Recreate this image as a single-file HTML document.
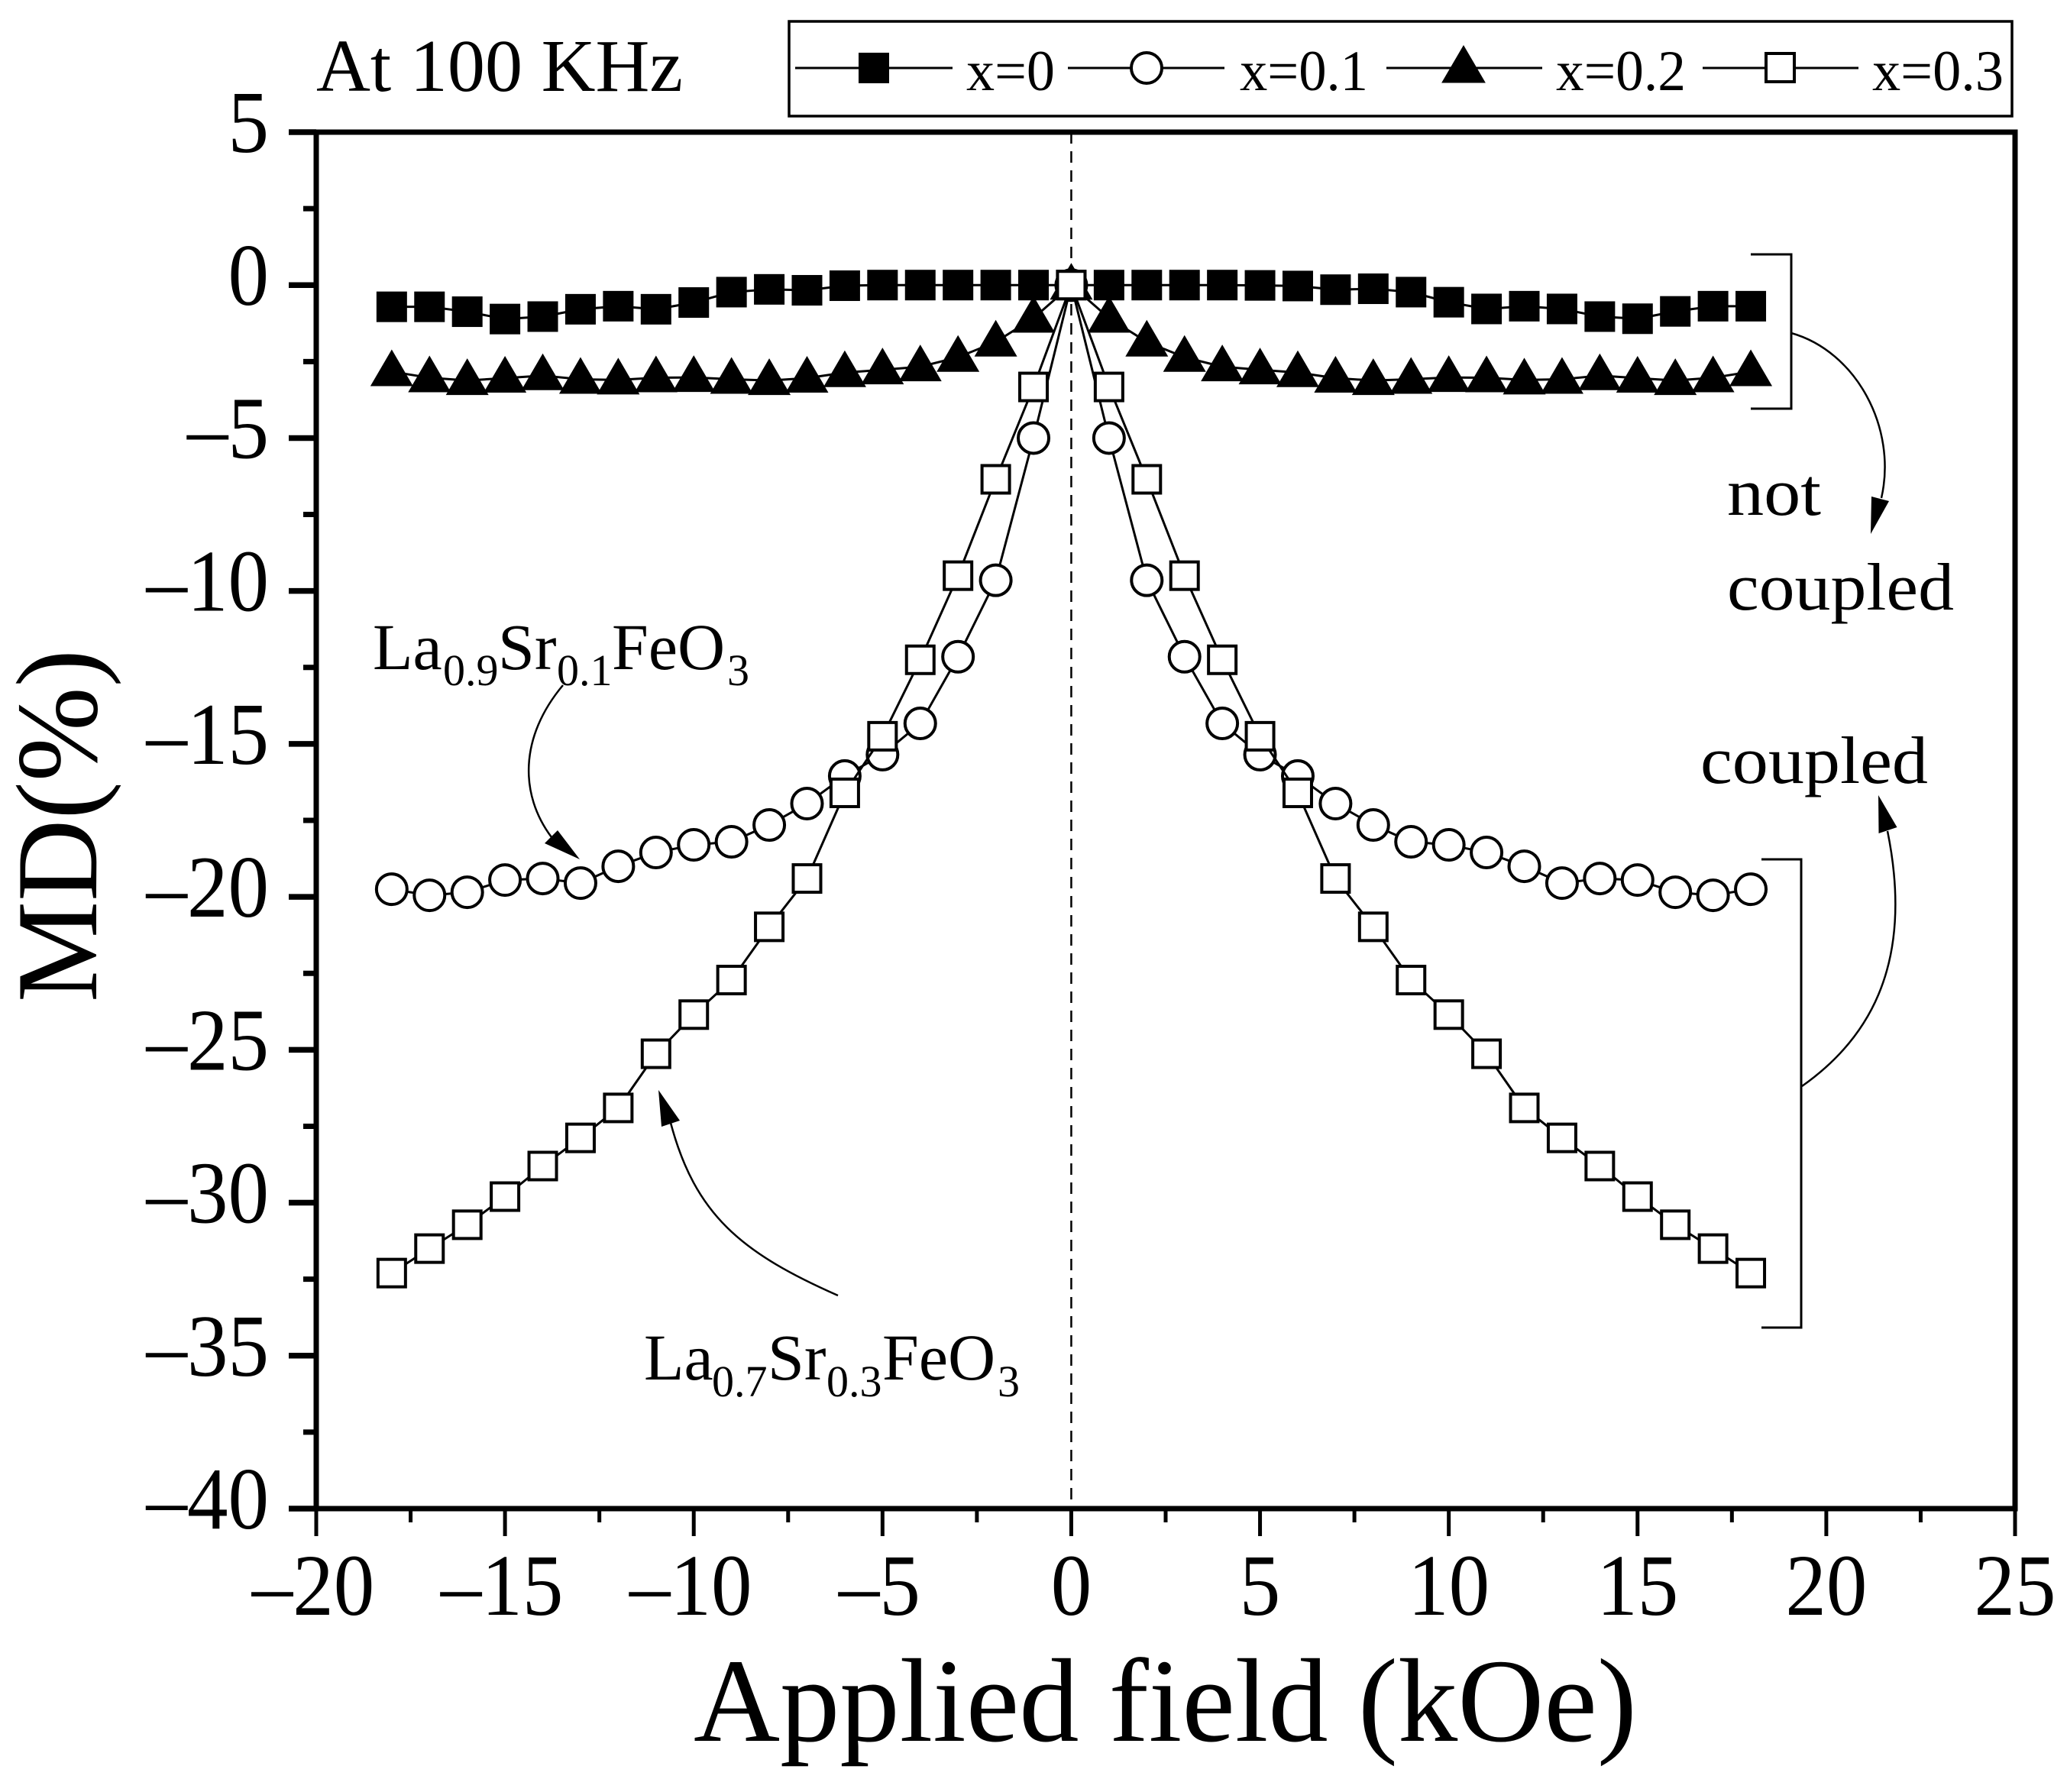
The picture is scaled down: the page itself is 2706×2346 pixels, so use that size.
<!DOCTYPE html>
<html lang="en">
<head>
<meta charset="utf-8">
<title>Magnetodielectric response at 100 KHz</title>
<style>
html,body{margin:0;padding:0;background:#fff;}
svg{display:block;}
text{font-family:"Liberation Serif","DejaVu Serif",serif;fill:#000;}
</style>
</head>
<body>
<svg id="chart" xmlns="http://www.w3.org/2000/svg" width="2706" height="2346" viewBox="0 0 2706 2346">
  <rect width="2706" height="2346" fill="#fff"/>
  <line id="zero-line" stroke="#000" stroke-width="2.5" stroke-dasharray="15 10"/>
  <g id="series-layer"></g>
  <g id="axis-layer"></g>

  <text x="414" y="119" font-size="98" textLength="480" lengthAdjust="spacingAndGlyphs">At 100 KHz</text>

  <g>
    <rect x="1033" y="28" width="1601" height="124" fill="#fff" stroke="#000" stroke-width="3.5"/>
    <g>
      <line x1="1041" x2="1247" y1="89" y2="89" stroke="#000" stroke-width="3"/>
      <rect x="1124" y="69" width="40" height="40" fill="#000"/>
      <text x="1265" y="118" font-size="75" textLength="116" lengthAdjust="spacingAndGlyphs">x=0</text>
    </g>
    <g>
      <line x1="1398" x2="1603" y1="89" y2="89" stroke="#000" stroke-width="3"/>
      <circle cx="1501" cy="89" r="20" fill="#fff" stroke="#000" stroke-width="4"/>
      <text x="1623" y="118" font-size="75" textLength="168" lengthAdjust="spacingAndGlyphs">x=0.1</text>
    </g>
    <g>
      <line x1="1815" x2="2019" y1="89" y2="89" stroke="#000" stroke-width="3"/>
      <polygon points="1916,60 1944,108 1888,108" fill="#000" stroke="#000" stroke-width="1"/>
      <text x="2037" y="118" font-size="75" textLength="170" lengthAdjust="spacingAndGlyphs">x=0.2</text>
    </g>
    <g>
      <line x1="2229" x2="2433" y1="89" y2="89" stroke="#000" stroke-width="3"/>
      <rect x="2312" y="70" width="37" height="37" fill="#fff" stroke="#000" stroke-width="4"/>
      <text x="2451" y="118" font-size="75" textLength="172" lengthAdjust="spacingAndGlyphs">x=0.3</text>
    </g>
  </g>

  <text x="908" y="2279" font-size="156" textLength="1235" lengthAdjust="spacingAndGlyphs">Applied field (kOe)</text>
  <text transform="translate(126 1312) rotate(-90)" x="0" y="0" font-size="152" textLength="462" lengthAdjust="spacingAndGlyphs">MD(%)</text>

  <g>
    <text font-size="86"><tspan x="488" y="876">La</tspan><tspan x="580" y="897" font-size="58">0.9</tspan><tspan x="652" y="876">Sr</tspan><tspan x="729" y="897" font-size="58">0.1</tspan><tspan x="801" y="876">FeO</tspan><tspan x="952" y="897" font-size="58">3</tspan></text>
    <path d="M737 897 C680 965 680 1040 722 1096" fill="none" stroke="#000" stroke-width="2.5"/>
    <polygon points="759,1125 713,1104 730,1087" fill="#000"/>
  </g>
  <g>
    <text font-size="86"><tspan x="843" y="1806">La</tspan><tspan x="932" y="1828" font-size="58">0.7</tspan><tspan x="1005" y="1806">Sr</tspan><tspan x="1082" y="1828" font-size="58">0.3</tspan><tspan x="1155" y="1806">FeO</tspan><tspan x="1306" y="1828" font-size="58">3</tspan></text>
    <path d="M1097 1696 C970 1640 910 1590 878 1470" fill="none" stroke="#000" stroke-width="2.5"/>
    <polygon points="862,1427 866,1475 890,1467" fill="#000"/>
  </g>

  <g>
    <polyline points="2292,333 2345,333 2345,535 2292,535" fill="none" stroke="#000" stroke-width="3"/>
    <path d="M2345 436 C2430 460 2484 560 2463 652" fill="none" stroke="#000" stroke-width="2.5"/>
    <polygon points="2449,699 2450,650 2473,656" fill="#000"/>
    <text x="2261" y="674" font-size="88" textLength="123" lengthAdjust="spacingAndGlyphs">not</text>
    <text x="2261" y="798" font-size="88" textLength="297" lengthAdjust="spacingAndGlyphs">coupled</text>
  </g>
  <g>
    <polyline points="2306,1125 2358,1125 2358,1738 2306,1738" fill="none" stroke="#000" stroke-width="3"/>
    <path d="M2359 1422 C2440 1365 2508 1270 2471 1088" fill="none" stroke="#000" stroke-width="2.5"/>
    <polygon points="2459,1041 2459.5,1091 2483.5,1083" fill="#000"/>
    <text x="2226" y="1025" font-size="88" textLength="298" lengthAdjust="spacingAndGlyphs">coupled</text>
  </g>
</svg>
<script>
const fieldValues = [-18,-17,-16,-15,-14,-13,-12,-11,-10,-9,-8,-7,-6,-5,-4,-3,-2,-1,0,1,2,3,4,5,6,7,8,9,10,11,12,13,14,15,16,17,18];
const seriesX00 = [-0.71,-0.71,-0.87,-1.11,-1.03,-0.79,-0.69,-0.79,-0.57,-0.23,-0.14,-0.17,-0.02,0,0,0,0,0,0,0,0,0,0,-0.01,-0.03,-0.15,-0.12,-0.23,-0.56,-0.78,-0.69,-0.78,-1.03,-1.1,-0.86,-0.69,-0.69];
const seriesX01 = [-19.75,-19.95,-19.85,-19.45,-19.4,-19.55,-19.0,-18.55,-18.3,-18.2,-17.65,-16.95,-16.05,-15.35,-14.33,-12.15,-9.65,-5.0,0,-5.0,-9.65,-12.15,-14.33,-15.35,-16.05,-16.95,-17.65,-18.2,-18.3,-18.55,-19.0,-19.55,-19.4,-19.45,-19.85,-19.95,-19.75];
const seriesX02 = [-2.83,-3.03,-3.12,-3.04,-2.96,-3.08,-3.1,-3.03,-3.02,-3.08,-3.12,-3.04,-2.86,-2.77,-2.67,-2.36,-1.86,-1.08,0,-1.08,-1.86,-2.36,-2.67,-2.77,-2.86,-3.04,-3.12,-3.08,-3.02,-3.03,-3.1,-3.08,-2.96,-3.04,-3.12,-3.03,-2.83];
const seriesX03 = [-32.3,-31.5,-30.72,-29.8,-28.8,-27.88,-26.9,-25.13,-23.85,-22.72,-20.98,-19.4,-16.6,-14.75,-12.25,-9.5,-6.35,-3.33,0,-3.33,-6.35,-9.5,-12.25,-14.75,-16.6,-19.4,-20.98,-22.72,-23.85,-25.13,-26.9,-27.88,-28.8,-29.8,-30.72,-31.5,-32.3];
const xMajorTicks = [-20,-15,-10,-5,0,5,10,15,20,25];
const xMinorTicks = [-17.5,-12.5,-7.5,-2.5,2.5,7.5,12.5,17.5,22.5];
const yMajorTicks = [5,0,-5,-10,-15,-20,-25,-30,-35,-40];
const yMinorTicks = [2.5,-2.5,-7.5,-12.5,-17.5,-22.5,-27.5,-32.5,-37.5];

const SVGNS = 'http://www.w3.org/2000/svg';
const xAt = v => 414 + (v + 20) * (2638 - 414) / 45;
const yAt = v => 173 + (5 - v) * (1975 - 173) / 45;
const seriesLayer = document.getElementById('series-layer');
const axisLayer = document.getElementById('axis-layer');

function make(tag, parent, attrs) {
  const el = document.createElementNS(SVGNS, tag);
  for (const k in attrs) el.setAttribute(k, attrs[k]);
  parent.appendChild(el);
  return el;
}

function drawSeries(values, seriesName, kind) {
  const g = make('g', seriesLayer, {});
  
  
  const pts = values.map((v, i) => xAt(fieldValues[i]) + ',' + yAt(v)).join(' ');
  const line = make('polyline', g, {points: pts, fill: 'none', stroke: '#000', 'stroke-width': 3});
  
  
  values.forEach((v, i) => {
    const cx = xAt(fieldValues[i]);
    const cy = yAt(v);
    let mark;
    if (kind === 'filled-square') {
      mark = make('rect', g, {x: cx - 20, y: cy - 20, width: 40, height: 40, fill: '#000'});
    } else if (kind === 'open-circle') {
      mark = make('circle', g, {cx: cx, cy: cy, r: 20, fill: '#fff', stroke: '#000', 'stroke-width': 4});
    } else if (kind === 'filled-triangle') {
      mark = make('polygon', g, {points: cx + ',' + (cy - 29) + ' ' + (cx + 28) + ',' + (cy + 19) + ' ' + (cx - 28) + ',' + (cy + 19), fill: '#000'});
    } else {
      mark = make('rect', g, {x: cx - 18, y: cy - 18, width: 36, height: 36, fill: '#fff', stroke: '#000', 'stroke-width': 4});
    }
    
    
  });
}

function tickText(v) {
  return v < 0 ? '\u2013' + Math.abs(v) : String(v);
}

function drawAxes() {
  const frame = make('rect', axisLayer, {x: xAt(-20), y: yAt(5), width: xAt(25) - xAt(-20), height: yAt(-40) - yAt(5), fill: 'none', stroke: '#000', 'stroke-width': 7});
  
  
  xMajorTicks.forEach(v => {
    const t = make('line', axisLayer, {x1: xAt(v), x2: xAt(v), y1: yAt(-40), y2: 2011, stroke: '#000', 'stroke-width': 5});
    
    
    const s = tickText(v);
    const lbl = make('text', axisLayer, {x: xAt(v) - (v < 0 ? 4 : 0), y: 2114, 'font-size': 114, 'text-anchor': 'middle', textLength: s.length * 53.5, lengthAdjust: 'spacingAndGlyphs'});
    lbl.textContent = s;
    
    
  });
  xMinorTicks.forEach(v => {
    const t = make('line', axisLayer, {x1: xAt(v), x2: xAt(v), y1: yAt(-40), y2: 1993, stroke: '#000', 'stroke-width': 5});
    
    
  });
  yMajorTicks.forEach(v => {
    const t = make('line', axisLayer, {x1: 378, x2: xAt(-20), y1: yAt(v), y2: yAt(v), stroke: '#000', 'stroke-width': 7.5});
    
    
    const s = tickText(v);
    const lbl = make('text', axisLayer, {x: 352, y: yAt(v) + 26, 'font-size': 115, 'text-anchor': 'end', textLength: s.length * 53.5, lengthAdjust: 'spacingAndGlyphs'});
    lbl.textContent = s;
    
    
  });
  yMinorTicks.forEach(v => {
    const t = make('line', axisLayer, {x1: 397, x2: xAt(-20), y1: yAt(v), y2: yAt(v), stroke: '#000', 'stroke-width': 7});
    
    
  });
}

const zero = document.getElementById('zero-line');
zero.setAttribute('x1', xAt(0));
zero.setAttribute('x2', xAt(0));
zero.setAttribute('y1', yAt(5));
zero.setAttribute('y2', yAt(-40));

drawSeries(seriesX00, 'series-x0', 'filled-square');
drawSeries(seriesX01, 'series-x0-1', 'open-circle');
drawSeries(seriesX02, 'series-x0-2', 'filled-triangle');
drawSeries(seriesX03, 'series-x0-3', 'open-square');
drawAxes();
</script>
</body>
</html>
